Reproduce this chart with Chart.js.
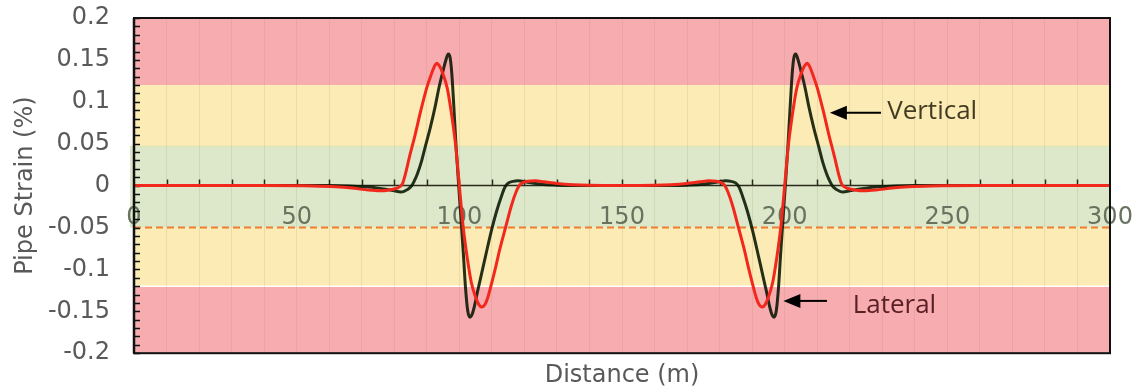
<!DOCTYPE html>
<html>
<head>
<meta charset="utf-8">
<script src="https://cdn.jsdelivr.net/npm/chart.js@4.4.0/dist/chart.umd.min.js"></script>
<style>
html,body{margin:0;padding:0;background:#ffffff;}
#wrap{width:1136px;height:392px;}
</style>
</head>
<body>
<div id="wrap"><canvas id="c" width="1136" height="392"></canvas></div>
<script>
// ---------- data ----------
const lateralX = [0, 40, 60, 66, 71, 75, 78, 80, 82, 83, 84, 85.4, 86.2, 87, 88.3, 89.5, 91, 92.5, 93.8, 95, 95.8, 96.6, 97.2, 97.7, 98.3, 99.0, 99.8, 100.6, 101.3, 101.9, 102.6, 103.3, 104.0, 104.7, 105.5, 106.5, 108, 109.9, 111.5, 113, 114, 115, 116.5, 118, 121, 125, 130, 140,
  150,
  160, 170, 175, 179, 182, 183.5, 185, 186, 187, 188.5, 190.1, 192, 193.5, 194.5, 195.3, 196.0, 196.7, 197.4, 198.1, 198.7, 199.4, 200.2, 201.0, 201.7, 202.3, 202.8, 203.4, 204.2, 205, 206.2, 207.5, 209, 210.5, 211.7, 213, 213.8, 214.6, 216, 217, 218, 220, 222, 225, 229, 234, 240, 260, 300];
const lateralY = [0, 0, 0, -0.0005, -0.0015, -0.003, -0.0048, -0.0062, -0.0075, -0.0068, -0.0048, 0, 0.006, 0.013, 0.028, 0.046, 0.068, 0.093, 0.118, 0.137, 0.149, 0.157, 0.152, 0.133, 0.095, 0.047, 0, -0.045, -0.085, -0.122, -0.150, -0.157, -0.153, -0.143, -0.128, -0.111, -0.085, -0.053, -0.030, -0.012, -0.002, 0.003, 0.005, 0.0057, 0.004, 0.0015, 0.0005, 0,
  0,
  0, 0.0005, 0.0015, 0.004, 0.0057, 0.005, 0.003, -0.002, -0.012, -0.030, -0.053, -0.085, -0.111, -0.128, -0.143, -0.153, -0.157, -0.150, -0.122, -0.085, -0.045, 0, 0.047, 0.095, 0.133, 0.152, 0.157, 0.149, 0.137, 0.118, 0.093, 0.068, 0.046, 0.028, 0.013, 0.006, 0, -0.0048, -0.0068, -0.0075, -0.0062, -0.0048, -0.003, -0.0015, -0.0005, 0, 0, 0];

const verticalX = [0, 40, 55, 62, 67, 71, 75.6, 78.5, 80.5, 81.6, 82.5, 83.3, 84.6, 86.5, 88, 90, 91.5, 92.3, 93.0, 94.0, 95.0, 96.3, 97.5, 98.8, 100, 101.2, 102.5, 103.7, 105, 106, 106.9, 108, 108.8, 109.7, 111, 112.5, 114.2, 116, 117.4, 118.4, 119.5, 121, 123.3, 126, 130, 135, 140,
  150,
  160, 165, 170, 174, 176.7, 179, 180.5, 181.6, 182.6, 184, 185.8, 187.5, 189, 190.3, 191.2, 192, 193.1, 194, 195, 196.3, 197.5, 198.8, 200, 201.2, 202.5, 203.7, 205, 206, 207, 207.7, 208.5, 210, 212, 213.5, 215.4, 216.7, 217.5, 218.4, 219.5, 221.5, 224.4, 229, 233, 238, 245, 260, 300];
const verticalY = [0, 0, -0.0005, -0.0015, -0.003, -0.0048, -0.0062, -0.0052, -0.0035, -0.0015, 0.002, 0.012, 0.033, 0.062, 0.087, 0.117, 0.134, 0.142, 0.146, 0.142, 0.133, 0.116, 0.088, 0.050, 0, -0.050, -0.088, -0.116, -0.133, -0.142, -0.145, -0.141, -0.133, -0.120, -0.100, -0.075, -0.050, -0.024, -0.008, 0, 0.0035, 0.0052, 0.0057, 0.0045, 0.0025, 0.001, 0.0003,
  0,
  0.0003, 0.001, 0.0025, 0.0045, 0.0057, 0.0052, 0.0035, 0, -0.008, -0.024, -0.050, -0.075, -0.100, -0.120, -0.133, -0.141, -0.145, -0.142, -0.133, -0.116, -0.088, -0.050, 0, 0.050, 0.088, 0.116, 0.133, 0.142, 0.146, 0.142, 0.134, 0.117, 0.087, 0.062, 0.033, 0.012, 0.002, -0.0015, -0.0035, -0.0052, -0.0062, -0.0048, -0.003, -0.0015, -0.0005, 0, 0];

const xTickValues = [0, 50, 100, 150, 200, 250, 300];
const xTickLabels = ['0', '50', '100', '150', '200', '250', '300'];
const yTickValues = [-0.2, -0.15, -0.1, -0.05, 0, 0.05, 0.1, 0.15, 0.2];
const yTickLabels = ['-0.2', '-0.15', '-0.1', '-0.05', '0', '0.05', '0.1', '0.15', '0.2'];

// strain zones (upper edge to lower edge) and limit line
const zoneEdges = [0.2, 0.12, 0.047, -0.05, -0.12, -0.2];
const limitLine = -0.05;

// ---------- styles ----------
const zoneColors = ['#f7adb0', '#fdebb5', '#dce8c9', '#fdebb5', '#f7adb0'];
const AXIS_FONT = 'DejaVu Sans';
const GREY = '#595959';

const toPoints = (xs, ys) => xs.map((x, i) => ({x: x, y: ys[i]}));
const noPad = (s) => { s.paddingTop = 0; s.paddingBottom = 0; s.paddingLeft = 0; s.paddingRight = 0; };

const decor = {
  id: 'decor',
  beforeDraw(chart) {
    const {ctx, chartArea: a, scales: {y}} = chart;
    ctx.save();
    for (let i = 0; i < zoneColors.length; i++) {
      const y1 = y.getPixelForValue(zoneEdges[i]);
      const y2 = y.getPixelForValue(zoneEdges[i + 1]);
      const ext = (i === 2) ? 4 : 0;
      ctx.fillStyle = zoneColors[i];
      ctx.fillRect(a.left - ext, y1, a.right - a.left + ext, y2 - y1);
    }
    ctx.strokeStyle = '#ffffff';
    ctx.lineWidth = 1.5;
    let yy = y.getPixelForValue(zoneEdges[4]);
    ctx.beginPath(); ctx.moveTo(a.left, yy); ctx.lineTo(a.right, yy); ctx.stroke();
    ctx.strokeStyle = 'rgba(215,228,170,0.9)';
    ctx.lineWidth = 1;
    yy = y.getPixelForValue(zoneEdges[2]);
    ctx.beginPath(); ctx.moveTo(a.left - 4, yy); ctx.lineTo(a.right, yy); ctx.stroke();
    ctx.restore();
  },
  beforeDatasetsDraw(chart) {
    const {ctx, chartArea: a, scales: {x, y}} = chart;
    ctx.save();
    const yl = y.getPixelForValue(limitLine);
    ctx.strokeStyle = '#ee7d31';
    ctx.lineWidth = 2;
    ctx.setLineDash([7, 4]);
    ctx.beginPath(); ctx.moveTo(a.left, yl); ctx.lineTo(a.right, yl); ctx.stroke();
    ctx.setLineDash([]);
    const y0 = y.getPixelForValue(0);
    ctx.strokeStyle = '#2a2a1e';
    ctx.lineWidth = 1.5;
    ctx.beginPath(); ctx.moveTo(a.left, y0); ctx.lineTo(a.right, y0); ctx.stroke();
    ctx.beginPath();
    for (let v = 10; v < 300; v += 10) {
      const px = Math.round(x.getPixelForValue(v)) + 0.5;
      ctx.moveTo(px, y0); ctx.lineTo(px, y0 - 6);
    }
    ctx.stroke();
    ctx.strokeStyle = '#111111';
    ctx.lineWidth = 1.5;
    ctx.beginPath();
    for (let i = -20; i <= 20; i++) {
      const py = Math.round(y.getPixelForValue(i / 100)) + 0.5;
      ctx.moveTo(a.left, py); ctx.lineTo(a.left + 6, py);
    }
    ctx.stroke();
    ctx.restore();
  },
  afterDraw(chart) {
    const {ctx, chartArea: a, scales: {x, y}} = chart;
    ctx.save();
    ctx.strokeStyle = '#111111';
    ctx.lineWidth = 2;
    ctx.strokeRect(a.left, a.top, a.right - a.left, a.bottom - a.top);
    ctx.lineWidth = 2.5;
    ctx.beginPath(); ctx.moveTo(a.left, a.top); ctx.lineTo(a.left, a.bottom); ctx.stroke();
    const arrow = (tipV, tailV, yv) => {
      const tx = x.getPixelForValue(tipV), ex = x.getPixelForValue(tailV), py = y.getPixelForValue(yv);
      ctx.strokeStyle = '#000000'; ctx.fillStyle = '#000000'; ctx.lineWidth = 2;
      ctx.beginPath(); ctx.moveTo(ex, py); ctx.lineTo(tx + 14, py); ctx.stroke();
      ctx.beginPath(); ctx.moveTo(tx, py); ctx.lineTo(tx + 17, py - 7); ctx.lineTo(tx + 17, py + 7); ctx.closePath(); ctx.fill();
    };
    arrow(213.9, 229.6, 0.087);
    arrow(199.6, 213.0, -0.1376);
    ctx.font = '26px "Open Sans"';
    ctx.textBaseline = 'alphabetic';
    ctx.textAlign = 'left';
    ctx.fillStyle = '#423d22';
    ctx.fillText('Vertical', x.getPixelForValue(231.5), y.getPixelForValue(0.079));
    ctx.fillStyle = '#5a2026';
    ctx.fillText('Lateral', x.getPixelForValue(220.9), y.getPixelForValue(-0.1526));
    ctx.restore();
  }
};

new Chart(document.getElementById('c'), {
  type: 'line',
  data: {
    datasets: [
      {
        label: 'Vertical',
        data: toPoints(verticalX, verticalY),
        borderColor: '#f2281c',
        borderWidth: 3,
        pointRadius: 0,
        cubicInterpolationMode: 'monotone',
        fill: false,
        order: 0
      },
      {
        label: 'Lateral',
        data: toPoints(lateralX, lateralY),
        borderColor: 'rgba(8,22,0,0.88)',
        borderWidth: 3,
        pointRadius: 0,
        cubicInterpolationMode: 'monotone',
        fill: false,
        order: 1
      }
    ]
  },
  options: {
    responsive: false,
    animation: false,
    layout: {padding: {top: 18, right: 26, bottom: 0, left: 10}},
    plugins: {legend: {display: false}, tooltip: {enabled: false}},
    scales: {
      x: {
        type: 'linear',
        position: 'bottom',
        min: 0, max: 300,
        afterFit: noPad,
        ticks: {display: false, stepSize: 10, padding: 0},
        grid: {color: 'rgba(150,130,100,0.16)', lineWidth: 1, drawTicks: false},
        border: {display: false},
        title: {display: true, text: 'Distance (m)', color: GREY, font: {family: AXIS_FONT, size: 24}, padding: {top: 8, bottom: 2}}
      },
      x0: {
        type: 'linear',
        axis: 'x',
        position: {y: 0},
        min: 0, max: 300,
        afterBuildTicks: (s) => { s.ticks = xTickValues.map(v => ({value: v})); },
        afterFit: noPad,
        ticks: {
          color: '#67735f', font: {family: AXIS_FONT, size: 24}, padding: 18,
          maxRotation: 0, autoSkip: false,
          callback: (v, i) => xTickLabels[i]
        },
        grid: {display: false, drawTicks: false},
        border: {display: false}
      },
      y: {
        type: 'linear',
        position: 'left',
        min: -0.2, max: 0.2,
        afterBuildTicks: (s) => { s.ticks = yTickValues.map(v => ({value: v})); },
        afterFit: (s) => { s.width = 124; noPad(s); },
        ticks: {
          color: GREY, font: {family: AXIS_FONT, size: 24}, padding: 24,
          callback: (v, i) => yTickLabels[i]
        },
        grid: {display: false, drawTicks: false},
        border: {display: false},
        title: {display: true, text: 'Pipe Strain (%)', color: GREY, font: {family: AXIS_FONT, size: 24}, padding: {top: 1, bottom: 8}}
      }
    }
  },
  plugins: [decor]
});
</script>
</body>
</html>
